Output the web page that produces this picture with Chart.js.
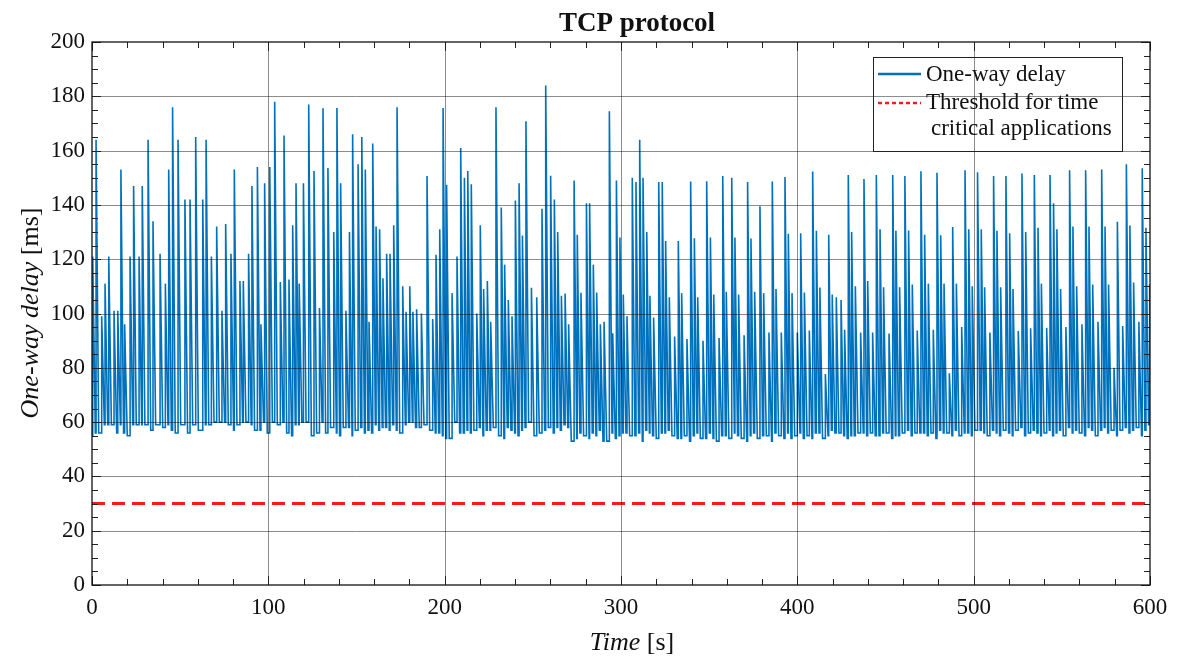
<!DOCTYPE html>
<html>
<head>
<meta charset="utf-8">
<script src="https://cdn.jsdelivr.net/npm/chart.js@4.4.1/dist/chart.umd.min.js"></script>
<style>
  html, body { margin: 0; padding: 0; background: #fff; }
  canvas { display: block; }
</style>
</head>
<body>
<canvas id="myChart" width="1180" height="657"></canvas>
<script>
// time (s) at which each delay spike starts
const riseTime = [
  0.4, 2.3, 5.5, 7.4, 9.5, 12.5, 14.6, 16.4, 18.5, 21.6,
  23.6, 26.7, 28.5, 31.8, 34.6, 38.6, 41.6, 43.5, 45.7, 48.8,
  52.7, 55.6, 58.8, 62.8, 64.7, 67.7, 70.7, 73.7, 75.8, 78.8,
  80.7, 83.9, 85.8, 88.8, 90.7, 93.8, 95.8, 97.9, 100.8,
  103.6, 106.8, 108.9, 111.7, 113.8, 115.7, 117.5, 119.9, 122.9, 125.9,
  129.0, 131.0, 133.8, 137.1, 138.9, 141.0, 144.0, 146.0, 147.8, 150.9,
  153.0, 155.0, 157.1, 159.2, 161.1, 163.1, 165.0, 167.1, 169.0, 171.1,
  173.0, 176.2, 178.1, 180.2, 182.0, 184.1, 186.8, 190.0, 193.2, 195.1,
  197.2, 199.1,
  201.1, 204.2, 207.0, 209.1, 211.2, 213.1, 215.1, 218.2, 220.2, 222.1,
  224.2, 226.1, 229.1, 232.1, 234.0, 236.1, 238.2, 240.1, 242.2, 244.1,
  246.1, 249.2, 252.2, 255.2, 257.3, 260.1, 262.2, 264.1, 266.2, 268.3,
  270.3, 273.4, 275.2, 277.3, 280.4, 282.2, 284.3, 286.2, 288.3, 290.4,
  293.4, 295.3, 297.4, 299.4,
  301.3, 303.4, 306.4, 308.5, 310.6, 312.5, 314.6, 316.4, 318.5, 321.4,
  323.4, 325.3, 327.4, 330.4, 332.5, 334.4, 337.4, 339.5, 341.6, 343.5,
  346.5, 348.6, 350.7, 352.6, 355.6, 357.7, 359.7, 362.8, 364.6, 366.7,
  369.8, 371.8, 373.7, 375.8, 378.8, 380.9, 383.9, 385.8, 387.9, 390.9,
  393.0, 394.9, 397.0, 400.0,
  401.9, 404.0, 406.8, 408.7, 410.8, 412.8, 415.9, 417.8, 419.8, 422.1,
  424.8, 426.8, 428.9, 430.8, 432.9, 435.9, 437.8, 439.9, 442.7, 444.8,
  446.9, 448.9, 452.0, 454.1, 455.9, 458.0, 461.0, 463.1, 465.2, 468.0,
  470.1, 472.2, 474.3, 477.1, 479.2, 481.3, 483.2, 486.2, 488.1, 490.2,
  493.2, 495.1, 497.2, 499.2,
  502.2, 504.3, 506.2, 509.2, 511.3, 513.2, 515.3, 518.3, 520.4, 522.3,
  525.3, 527.4, 529.5, 532.3, 534.4, 536.5, 538.4, 541.4, 543.3, 545.3,
  547.2, 549.3, 552.3, 554.4, 556.3, 558.4, 561.4, 563.5, 565.4, 567.5,
  570.5, 572.6, 574.5, 576.5, 579.6, 581.5, 584.5, 586.6, 588.6, 590.7,
  593.7, 595.6, 597.7, 599.8
];

// one-way delay (ms) at the top of each spike
const peakDelay = [
  121, 164, 99, 111, 121, 101, 101, 153, 96, 121,
  147, 121, 147, 164, 134, 122, 111, 153, 176, 164,
  142, 142, 165, 142, 164, 121, 132, 101, 133, 122,
  153, 112, 112, 122, 147, 154, 96, 148, 154,
  178, 111.6, 165.6, 112.5, 132.5, 148, 111, 148, 177, 152.5,
  102, 175.6, 153.6, 130, 175.7, 148, 101, 130, 166, 155,
  165, 153, 97, 162.6, 132, 131, 113, 122, 122, 132.5,
  176, 110, 100.6, 110, 100.6, 101.6, 100, 150.6, 98, 121.6,
  131, 175.7,
  147.4, 107.5, 121, 161, 150, 152.5, 147.6, 100, 132.5, 109,
  112, 97, 176, 139, 118, 105, 99, 141.6, 148, 128.7,
  170.8, 109.5, 106, 138.6, 184, 150.7, 142, 130, 106.5, 107.4,
  96, 149, 129, 107.6, 140.6, 140.6, 118, 107.7, 96, 97,
  174.5, 92.7, 149, 128,
  107, 99, 150, 148.4, 164, 150, 130, 106.5, 98.5, 148.4,
  148.4, 126.7, 106, 91.5, 126.7, 107.5, 90.6, 148.6, 127.7, 106,
  90, 148.7, 128, 107, 91, 150.6, 108, 150, 128, 107,
  92, 148.4, 127.6, 108, 139.5, 107.5, 93, 148.6, 109, 93,
  150.3, 129.4, 107.5, 93,
  129.6, 107.7, 93.7, 152.3, 130.5, 109.6, 77.7, 129, 107, 106,
  105, 94, 151, 130, 110, 93, 149.5, 112, 93, 151,
  131, 109.7, 92.6, 151, 130.5, 109.7, 150.6, 130.6, 110.7, 93.7,
  152.4, 129, 111, 94, 151.8, 128.8, 111, 78, 131.9, 111,
  95, 152.8, 131, 110,
  152, 131, 109.7, 93, 150.6, 130.5, 109.7, 150.6, 129.6, 109,
  93.6, 151.6, 130, 94.6, 151, 131.6, 111, 94.7, 151, 140.6,
  131, 109, 95, 152.8, 132, 110, 96, 152.8, 132, 110.7,
  97, 153, 132, 110.7, 80, 133.8, 95.4, 155, 132.4, 111.4,
  97, 153.5, 131.6, 110.8
];

// delay (ms) the trace falls back to after each spike
const floorDelay = [
  56, 56, 59, 59, 59, 56, 59, 56, 55, 59,
  59, 59, 59, 57, 59, 58, 59, 57, 56, 59,
  56, 59, 57, 59, 59, 60, 60, 60, 59, 57,
  59, 60, 60, 59, 57, 57, 60, 56, 60,
  59, 60, 56, 55, 59, 59, 60, 60, 55, 56,
  60, 56, 58, 56, 55, 58, 58, 55, 57, 58,
  56, 57, 56, 59, 57, 58, 58, 57, 59, 57,
  56, 59, 60, 60, 58, 58, 59, 57, 56, 56,
  55, 54,
  54, 60, 56, 56, 57, 56, 57, 58, 55, 57,
  57, 58, 55, 54, 58, 57, 56, 55, 57, 58,
  60, 55, 56, 57, 58, 56, 58, 57, 59, 58,
  53, 54, 56, 55, 54, 56, 55, 57, 53, 53,
  56, 54, 55, 56,
  56, 55, 55, 56, 53, 57, 56, 55, 54, 56,
  56, 57, 55, 54, 54, 55, 53, 55, 56, 54,
  54, 56, 54, 53, 55, 55, 54, 56, 55, 54,
  53, 55, 56, 54, 55, 55, 53, 56, 55, 54,
  56, 54, 55, 56,
  54, 55, 54, 56, 56, 54, 55, 57, 56, 56,
  55, 54, 55, 55, 56, 56, 55, 56, 55, 55,
  56, 56, 54, 55, 55, 56, 57, 55, 56, 56,
  56, 55, 56, 54, 57, 56, 56, 55, 57, 55,
  56, 56, 55, 57,
  57, 56, 55, 57, 56, 55, 57, 56, 55, 57,
  58, 55, 56, 57, 56, 55, 56, 57, 55, 56,
  57, 55, 58, 56, 57, 56, 55, 58, 57, 55,
  57, 58, 56, 57, 55, 57, 58, 56, 57, 58,
  55, 57, 59, 58
];

const firstDelay = 55;
const thresholdDelay = 30;
const timeRange = [0, 600];
const xTickLabels = [0, 100, 200, 300, 400, 500, 600];
const yTickLabels = [0, 20, 40, 60, 80, 100, 120, 140, 160, 180, 200];

const decay = 1.5; // seconds for a spike to fall back down

const delayPoints = [{ x: 0, y: firstDelay }];
riseTime.forEach((t, i) => {
  const before = i ? (floorDelay[i - 1] ?? 57) : firstDelay;
  delayPoints.push({ x: t, y: before });
  delayPoints.push({ x: t, y: peakDelay[i] });
  const next = riseTime[i + 1] ?? t + 2;
  delayPoints.push({ x: Math.min(t + decay, next - 0.3), y: floorDelay[i] ?? 57 });
});

const thresholdPoints = timeRange.map(t => ({ x: t, y: thresholdDelay }));

const serif = '"Liberation Serif", "DejaVu Serif", serif';
const blue = '#0072BD';
const red = '#ff1a1a';

const framePlugin = {
  id: 'frame',
  afterDatasetsDraw(chart) {
    const { ctx, chartArea: a, scales: { x, y } } = chart;
    ctx.save();

    // grid on top of the data, like the original
    ctx.strokeStyle = 'rgba(0,0,0,0.45)';
    ctx.lineWidth = 1;
    ctx.beginPath();
    xTickLabels.slice(1, -1).forEach(v => {
      const px = Math.round(x.getPixelForValue(v)) + 0.5;
      ctx.moveTo(px, a.top); ctx.lineTo(px, a.bottom);
    });
    yTickLabels.slice(1, -1).forEach(v => {
      const py = Math.round(y.getPixelForValue(v)) + 0.5;
      ctx.moveTo(a.left, py); ctx.lineTo(a.right, py);
    });
    ctx.stroke();

    // minor + major ticks on all four sides
    ctx.strokeStyle = '#222';
    ctx.beginPath();
    for (let v = timeRange[0]; v <= timeRange[1]; v += 20) {
      const px = Math.round(x.getPixelForValue(v)) + 0.5;
      const len = v % 100 === 0 ? 9 : 6;
      ctx.moveTo(px, a.bottom); ctx.lineTo(px, a.bottom - len);
      ctx.moveTo(px, a.top); ctx.lineTo(px, a.top + len);
    }
    for (let v = 0; v <= 200; v += 5) {
      const py = Math.round(y.getPixelForValue(v)) + 0.5;
      const len = v % 20 === 0 ? 9 : 6;
      ctx.moveTo(a.left, py); ctx.lineTo(a.left + len, py);
      ctx.moveTo(a.right, py); ctx.lineTo(a.right - len, py);
    }
    ctx.stroke();

    // axes box
    ctx.strokeStyle = '#111';
    ctx.lineWidth = 1.3;
    ctx.strokeRect(a.left, a.top, a.right - a.left, a.bottom - a.top);

    // legend
    const lx = 873, ly = 57, lw = 249, lh = 94;
    ctx.lineWidth = 1;
    ctx.strokeStyle = '#222';
    ctx.strokeRect(lx + 0.5, ly + 0.5, lw, lh);
    ctx.lineWidth = 2.5;
    ctx.strokeStyle = blue;
    ctx.beginPath(); ctx.moveTo(878, 74); ctx.lineTo(921, 74); ctx.stroke();
    ctx.strokeStyle = red;
    ctx.setLineDash([4, 3]);
    ctx.beginPath(); ctx.moveTo(878, 103); ctx.lineTo(921, 103); ctx.stroke();
    ctx.setLineDash([]);
    ctx.fillStyle = '#111';
    ctx.font = '23px ' + serif;
    ctx.textBaseline = 'middle';
    ctx.textAlign = 'left';
    ctx.fillText('One-way delay', 926, 75);
    ctx.fillText('Threshold for time', 926, 103);
    ctx.fillText('critical applications', 931, 129);

    ctx.restore();
  },
  afterDraw(chart) {
    const { ctx } = chart;
    ctx.save();
    ctx.fillStyle = '#111';
    ctx.textBaseline = 'middle';

    // title
    ctx.font = 'bold 27px ' + serif;
    ctx.textAlign = 'center';
    ctx.fillText('TCP protocol', 637, 24);

    // mixed italic / upright axis titles
    const drawParts = (parts, cx, cy) => {
      const widths = parts.map(p => { ctx.font = p[1] + ' 26px ' + serif; return ctx.measureText(p[0]).width; });
      let sx = cx - widths.reduce((s, w) => s + w, 0) / 2;
      ctx.textAlign = 'left';
      parts.forEach((p, i) => {
        ctx.font = p[1] + ' 26px ' + serif;
        ctx.fillText(p[0], sx, cy);
        sx += widths[i];
      });
    };
    drawParts([['Time', 'italic'], [' [s]', 'normal']], 632, 643);
    ctx.translate(31, 313);
    ctx.rotate(-Math.PI / 2);
    drawParts([['One-way delay', 'italic'], [' [ms]', 'normal']], 0, 0);
    ctx.restore();
  }
};

const ctx = document.getElementById('myChart');

new Chart(ctx, {
  type: 'line',
  data: {
    datasets: [
      {
        label: 'One-way delay',
        data: delayPoints,
        borderColor: blue,
        borderWidth: 1.6,
        pointRadius: 0,
        tension: 0,
        fill: false
      },
      {
        label: 'Threshold for time critical applications',
        data: thresholdPoints,
        borderColor: red,
        borderWidth: 3,
        borderDash: [13, 7],
        pointRadius: 0,
        fill: false
      }
    ]
  },
  options: {
    responsive: false,
    animation: false,
    devicePixelRatio: 1,
    layout: { padding: { top: 42, right: 30, left: 0, bottom: 0 } },
    plugins: {
      legend: { display: false },
      title: { display: false },
      tooltip: { enabled: false }
    },
    scales: {
      x: {
        type: 'linear',
        min: timeRange[0],
        max: timeRange[1],
        afterFit: s => { s.height = 72; },
        afterBuildTicks: s => { s.ticks = xTickLabels.map(v => ({ value: v })); },
        grid: { display: false, drawTicks: false },
        border: { display: false },
        ticks: { padding: 9, color: '#111', font: { family: serif, size: 23 }, maxRotation: 0 }
      },
      y: {
        min: 0,
        max: 200,
        afterFit: s => { s.width = 92; },
        afterBuildTicks: s => { s.ticks = yTickLabels.map(v => ({ value: v })); },
        grid: { display: false, drawTicks: false },
        border: { display: false },
        ticks: { padding: 7, color: '#111', font: { family: serif, size: 23 } }
      }
    }
  },
  plugins: [framePlugin]
});
</script>
</body>
</html>
